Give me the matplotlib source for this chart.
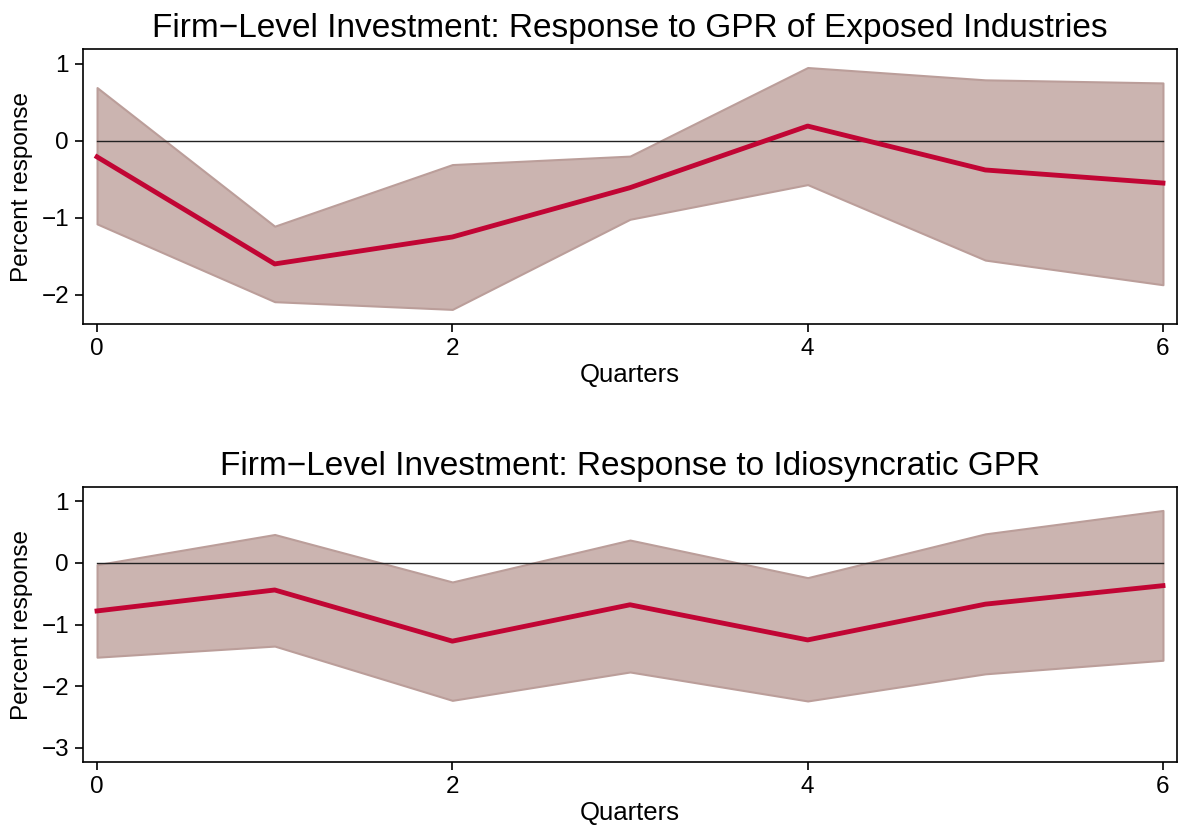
import numpy as np
import matplotlib
matplotlib.use("Agg")
import matplotlib.pyplot as plt

plt.rcParams['font.family'] = ['Liberation Sans', 'DejaVu Sans']

quarters = [0, 1, 2, 3, 4, 5, 6]

# Exposed industries
exp_irf = [-0.21, -1.60, -1.25, -0.61, 0.19, -0.38, -0.55]
exp_hi = [0.69, -1.11, -0.31, -0.20, 0.95, 0.79, 0.75]
exp_lo = [-1.08, -2.09, -2.19, -1.02, -0.57, -1.55, -1.87]

# Idiosyncratic
idio_irf = [-0.78, -0.44, -1.27, -0.68, -1.25, -0.67, -0.37]
idio_hi = [-0.03, 0.46, -0.31, 0.37, -0.24, 0.47, 0.85]
idio_lo = [-1.53, -1.35, -2.23, -1.77, -2.24, -1.80, -1.58]

titles = ["Firm\u2212Level Investment: Response to GPR of Exposed Industries",
          "Firm\u2212Level Investment: Response to Idiosyncratic GPR"]
yticks = [[-2, -1, 0, 1], [-3, -2, -1, 0, 1]]
ylims = [(-2.38, 1.19), (-3.23, 1.23)]

line_col = "#c10534"
band_col = "#cbb4b0"
band_edge = "#bb9e9a"

fig = plt.figure(figsize=(11.79, 8.27), dpi=100)
ax1 = fig.add_axes([0.0704, 0.6082, 0.9279, 0.3325])
ax2 = fig.add_axes([0.0704, 0.0786, 0.9279, 0.3325])

panels = [(ax1, exp_irf, exp_hi, exp_lo), (ax2, idio_irf, idio_hi, idio_lo)]
for i, (ax, irf, hi, lo) in enumerate(panels):
    ax.fill_between(quarters, lo, hi, facecolor=band_col, edgecolor=band_edge, linewidth=1.5, zorder=1)
    ax.plot([quarters[0], quarters[-1]], [0, 0], color="#222222", linewidth=1.0, zorder=2)
    ax.plot(quarters, irf, color=line_col, linewidth=3.5, zorder=3)
    ax.set_xlim(-0.079, 6.079)
    ax.set_ylim(*ylims[i])
    ax.set_xticks([0, 2, 4, 6])
    ax.set_yticks(yticks[i])
    ax.set_yticklabels([str(t).replace('-', '\u2212') for t in yticks[i]])
    ax.tick_params(labelsize=17.5, length=6, width=1.2, direction='out', pad=4)
    ax.set_xlabel("Quarters", fontsize=18.5, labelpad=2)
    ax.set_ylabel("Percent response", fontsize=17.5, labelpad=6)
    ax.set_title(titles[i], fontsize=24, pad=9)
    for s in ax.spines.values():
        s.set_linewidth(1.2)

fig.savefig("out.png", dpi=100)
